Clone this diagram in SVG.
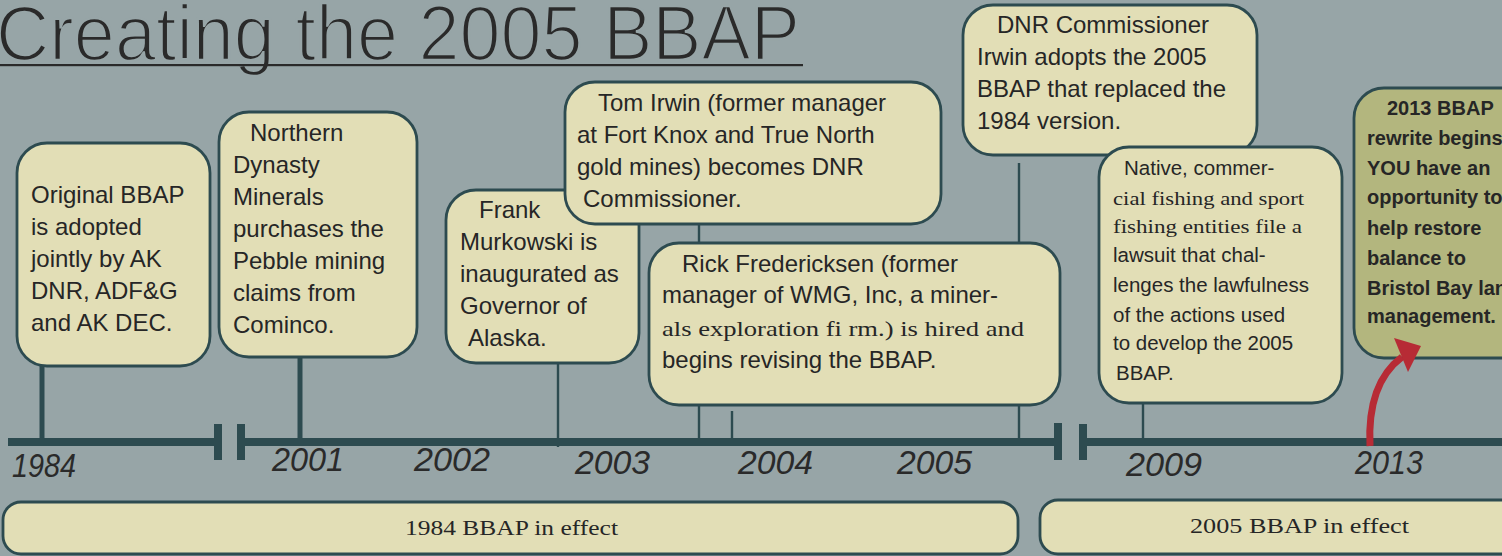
<svg xmlns="http://www.w3.org/2000/svg" width="1502" height="556" viewBox="0 0 1502 556">
<style>
.bg{fill:#97a5a7}
.box{fill:#e2deb6;stroke:#2d4b50;stroke-width:2.8}
.hot{fill:#b3b67e;stroke:#2d4b50;stroke-width:2.8}
.t{font-family:"Liberation Sans",Arial,sans-serif;font-size:24px;fill:#262626}
.s{font-family:"Liberation Serif","Times New Roman",serif;fill:#262626}
.n{font-family:"Liberation Sans",Arial,sans-serif;font-size:20.5px;fill:#262626}
.b{font-family:"Liberation Sans",Arial,sans-serif;font-size:20px;font-weight:bold;fill:#262626}
.yr{font-family:"Liberation Sans",Arial,sans-serif;font-size:34px;font-style:italic;fill:#2a2a2a}
.thick{stroke:#2d4b50;stroke-width:5;fill:none}
.thin{stroke:#2d4b50;stroke-width:2.4;fill:none}
.tl{fill:#2d4b50}
</style>
<rect class="bg" x="0" y="0" width="1502" height="556"/>

<g id="title">
<text x="-4" y="60" font-family="'Liberation Sans',Arial,sans-serif" font-size="77" fill="#2a2a2a" stroke="#97a5a7" stroke-width="2.4" textLength="804" lengthAdjust="spacingAndGlyphs">Creating the 2005 BBAP</text>
<rect x="0" y="64" width="803" height="2.2" fill="#2a2a2a"/>
</g>

<g id="timeline">
<rect class="tl" x="8" y="438" width="214" height="8"/>
<rect class="tl" x="214" y="424" width="8" height="36"/>
<rect class="tl" x="237" y="424" width="8" height="36"/>
<rect class="tl" x="237" y="438" width="823" height="8"/>
<rect class="tl" x="1054" y="423" width="8" height="37"/>
<rect class="tl" x="1079" y="424" width="8" height="36"/>
<rect class="tl" x="1079" y="438" width="423" height="8"/>
<text class="yr" x="12" y="477" textLength="64" lengthAdjust="spacingAndGlyphs">1984</text>
<text class="yr" x="272" y="471" textLength="72" lengthAdjust="spacingAndGlyphs">2001</text>
<text class="yr" x="414" y="471" textLength="76" lengthAdjust="spacingAndGlyphs">2002</text>
<text class="yr" x="575" y="474" textLength="75" lengthAdjust="spacingAndGlyphs">2003</text>
<text class="yr" x="738" y="474" textLength="75" lengthAdjust="spacingAndGlyphs">2004</text>
<text class="yr" x="897" y="474" textLength="75" lengthAdjust="spacingAndGlyphs">2005</text>
<text class="yr" x="1126" y="476" textLength="76" lengthAdjust="spacingAndGlyphs">2009</text>
<text class="yr" x="1355" y="474" textLength="68" lengthAdjust="spacingAndGlyphs">2013</text>
</g>

<g id="connectors">
<line class="thick" x1="42" y1="366" x2="42" y2="440"/>
<line class="thick" x1="300" y1="356" x2="300" y2="440"/>
<line class="thin" x1="558" y1="362" x2="558" y2="447"/>
<line class="thin" x1="699" y1="224" x2="699" y2="438"/>
<line class="thin" x1="732" y1="411" x2="732" y2="438"/>
<line class="thin" x1="1019" y1="163" x2="1019" y2="438"/>
<line class="thin" x1="1143" y1="402" x2="1143" y2="438"/>
</g>

<g id="node-1984">
<rect class="box" x="17" y="143" width="193" height="223" rx="30"/>
<text class="t" x="31" y="203">Original BBAP</text>
<text class="t" x="31" y="235">is adopted</text>
<text class="t" x="31" y="267">jointly by AK</text>
<text class="t" x="31" y="299">DNR, ADF&amp;G</text>
<text class="t" x="31" y="331">and AK DEC.</text>
</g>

<g id="node-2001">
<rect class="box" x="219" y="112" width="198" height="245" rx="30"/>
<text class="t" x="250" y="141">Northern</text>
<text class="t" x="233" y="173">Dynasty</text>
<text class="t" x="233" y="205">Minerals</text>
<text class="t" x="233" y="237">purchases the</text>
<text class="t" x="233" y="269">Pebble mining</text>
<text class="t" x="233" y="301">claims from</text>
<text class="t" x="233" y="333">Cominco.</text>
</g>

<g id="node-murkowski">
<rect class="box" x="446" y="190" width="193" height="173" rx="30"/>
<text class="t" x="479" y="218">Frank</text>
<text class="t" x="460" y="250">Murkowski is</text>
<text class="t" x="460" y="282">inaugurated as</text>
<text class="t" x="460" y="314">Governor of</text>
<text class="t" x="468" y="346">Alaska.</text>
</g>

<g id="node-irwin">
<rect class="box" x="565" y="82" width="376" height="142" rx="30"/>
<text class="t" x="598" y="111">Tom Irwin (former manager</text>
<text class="t" x="577" y="143">at Fort Knox and True North</text>
<text class="t" x="577" y="175">gold mines) becomes DNR</text>
<text class="t" x="583" y="207">Commissioner.</text>
</g>

<g id="node-fredericksen">
<rect class="box" x="649" y="243" width="411" height="162" rx="30"/>
<text class="t" x="682" y="272">Rick Fredericksen (former</text>
<text class="t" x="662" y="303">manager of WMG, Inc, a miner-</text>
<text class="s" x="662" y="336" font-size="21" textLength="362" lengthAdjust="spacingAndGlyphs">als exploration fi rm.) is hired and</text>
<text class="t" x="662" y="368">begins revising the BBAP.</text>
</g>

<g id="node-adopt2005">
<rect class="box" x="963" y="5" width="294" height="150" rx="30"/>
<text class="t" x="997" y="33">DNR Commissioner</text>
<text class="t" x="977" y="65">Irwin adopts the 2005</text>
<text class="t" x="977" y="97">BBAP that replaced the</text>
<text class="t" x="977" y="129">1984 version.</text>
</g>

<g id="node-lawsuit">
<rect class="box" x="1099" y="147" width="243" height="256" rx="30"/>
<text class="n" x="1124" y="175">Native, commer-</text>
<text class="s" x="1113" y="205" font-size="19" textLength="191" lengthAdjust="spacingAndGlyphs">cial fishing and sport</text>
<text class="s" x="1113" y="233" font-size="19" textLength="189" lengthAdjust="spacingAndGlyphs">fishing entities file a</text>
<text class="n" x="1113" y="262">lawsuit that chal-</text>
<text class="n" x="1113" y="292">lenges the lawfulness</text>
<text class="n" x="1113" y="322">of the actions used</text>
<text class="n" x="1113" y="350">to develop the 2005</text>
<text class="n" x="1116" y="380">BBAP.</text>
</g>

<g id="node-2013">
<rect class="hot" x="1354" y="88" width="180" height="270" rx="30"/>
<text class="b" x="1387" y="115">2013 BBAP</text>
<text class="b" x="1367" y="145">rewrite begins</text>
<text class="b" x="1367" y="175">YOU have an</text>
<text class="b" x="1367" y="204">opportunity to</text>
<text class="b" x="1367" y="235">help restore</text>
<text class="b" x="1367" y="265">balance to</text>
<text class="b" x="1367" y="295">Bristol Bay land</text>
<text class="b" x="1367" y="323">management.</text>
</g>

<g id="bar-1984">
<rect class="box" x="3" y="502" width="1015" height="52" rx="18"/>
<text class="s" x="405" y="535" font-size="22" textLength="213" lengthAdjust="spacingAndGlyphs">1984 BBAP in effect</text>
</g>

<g id="bar-2005">
<rect class="box" x="1040" y="500" width="500" height="54" rx="18"/>
<text class="s" x="1190" y="533" font-size="22" textLength="219" lengthAdjust="spacingAndGlyphs">2005 BBAP in effect</text>
</g>

<g id="arrow">
<path d="M1370 446 C1368 405 1378 375 1402 357" stroke="#b72b35" stroke-width="7" fill="none"/>
<polygon points="1394,338 1421,346 1408,372" fill="#b72b35"/>
</g>
</svg>
